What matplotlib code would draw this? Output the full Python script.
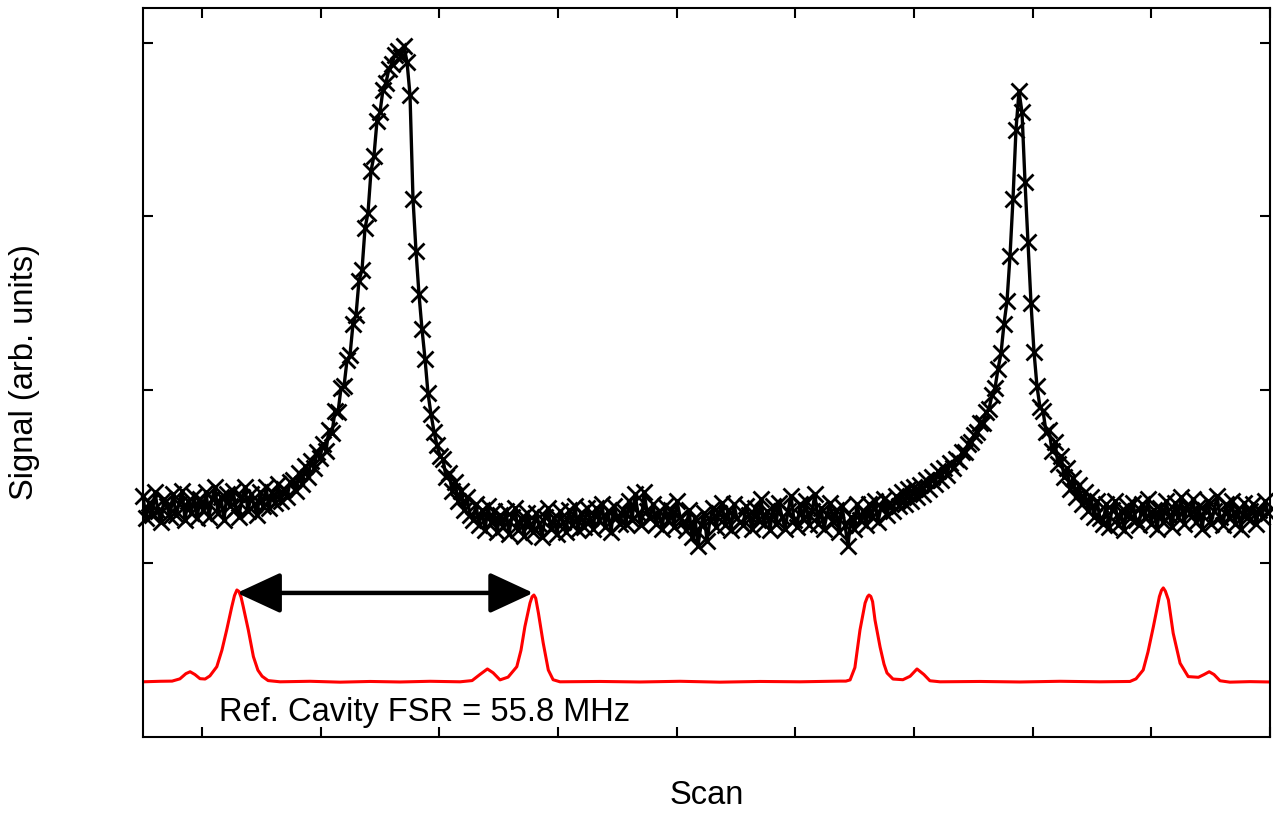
import numpy as np
import matplotlib
matplotlib.use('Agg')
from matplotlib import pyplot as plt

plt.rcParams['font.family'] = ['Liberation Sans', 'DejaVu Sans']

# scan signal (black), one value per scan sample
signal = [
    1.39, 1.26, 1.35, 1.28, 1.41, 1.30, 1.24, 1.37, 1.33, 1.27,
    1.40, 1.28, 1.34, 1.42, 1.25, 1.36, 1.29, 1.39, 1.26, 1.37,
    1.31, 1.41, 1.27, 1.37, 1.44, 1.29, 1.38, 1.25, 1.40, 1.33,
    1.42, 1.32, 1.27, 1.38, 1.44, 1.30, 1.40, 1.34, 1.28, 1.41,
    1.33, 1.44, 1.32, 1.41, 1.35, 1.46, 1.36, 1.43, 1.38, 1.47,
    1.48, 1.42, 1.52, 1.46, 1.56, 1.50, 1.59, 1.55, 1.64, 1.61,
    1.69, 1.65, 1.77, 1.75, 1.88, 1.87, 2.01, 2.02, 2.17, 2.20,
    2.38, 2.43, 2.63, 2.69, 2.93, 3.02, 3.26, 3.35, 3.55, 3.60,
    3.73, 3.77, 3.85, 3.88, 3.93, 3.95, 3.92, 3.98, 3.89, 3.70,
    3.10, 2.80, 2.55, 2.35, 2.18, 1.98, 1.86, 1.76, 1.68, 1.62,
    1.60, 1.50, 1.52, 1.42, 1.47, 1.36, 1.42, 1.31, 1.38, 1.28,
    1.25, 1.34, 1.22, 1.31, 1.19, 1.33, 1.24, 1.30, 1.18, 1.28,
    1.21, 1.30, 1.17, 1.27, 1.32, 1.19, 1.26, 1.16, 1.29, 1.23,
    1.18, 1.29, 1.23, 1.15, 1.27, 1.32, 1.20, 1.26, 1.17, 1.30,
    1.24, 1.18, 1.31, 1.22, 1.33, 1.19, 1.29, 1.21, 1.32, 1.26,
    1.20, 1.32, 1.25, 1.34, 1.21, 1.30, 1.18, 1.33, 1.27, 1.23,
    1.31, 1.23, 1.36, 1.25, 1.40, 1.29, 1.22, 1.41, 1.30, 1.26,
    1.34, 1.23, 1.30, 1.20, 1.33, 1.25, 1.31, 1.21, 1.36, 1.27,
    1.24, 1.19, 1.31, 1.15, 1.26, 1.10, 1.22, 1.29, 1.13, 1.25,
    1.32, 1.21, 1.29, 1.35, 1.22, 1.30, 1.19, 1.34, 1.26, 1.24,
    1.22, 1.33, 1.28, 1.20, 1.32, 1.25, 1.37, 1.23, 1.30, 1.19,
    1.33, 1.23, 1.35, 1.27, 1.20, 1.30, 1.39, 1.25, 1.21, 1.34,
    1.26, 1.36, 1.22, 1.30, 1.40, 1.23, 1.32, 1.20, 1.28, 1.35,
    1.24, 1.31, 1.18, 1.33, 1.22, 1.10, 1.27, 1.20, 1.34, 1.25,
    1.30, 1.22, 1.34, 1.27, 1.36, 1.24, 1.32, 1.37, 1.28, 1.35,
    1.30, 1.39, 1.33, 1.41, 1.34, 1.43, 1.36, 1.44, 1.38, 1.45,
    1.40, 1.48, 1.43, 1.50, 1.46, 1.53, 1.48, 1.55, 1.51, 1.58,
    1.55, 1.60, 1.59, 1.64, 1.64, 1.69, 1.70, 1.74, 1.76, 1.81,
    1.81, 1.87, 1.89, 1.97, 2.01, 2.12, 2.21, 2.38, 2.51, 2.77,
    3.10, 3.50, 3.72, 3.60, 3.20, 2.85, 2.50, 2.22, 2.02, 1.90,
    1.88, 1.76, 1.77, 1.65, 1.70, 1.57, 1.62, 1.50, 1.55, 1.43,
    1.49, 1.38, 1.45, 1.34, 1.41, 1.30, 1.38, 1.27, 1.36, 1.26,
    1.23, 1.34, 1.21, 1.31, 1.36, 1.22, 1.30, 1.19, 1.33, 1.26,
    1.35, 1.25, 1.22, 1.34, 1.27, 1.37, 1.23, 1.31, 1.20, 1.32,
    1.24, 1.36, 1.28, 1.21, 1.35, 1.27, 1.38, 1.23, 1.33, 1.29,
    1.37, 1.24, 1.33, 1.20, 1.31, 1.36, 1.23, 1.30, 1.39, 1.27,
    1.22, 1.34, 1.27, 1.36, 1.23, 1.31, 1.20, 1.35, 1.26, 1.30,
    1.34, 1.23, 1.31, 1.27, 1.36, 1.29,
]

# reference cavity transmission (red)
ref_x = [0, 5.7, 9.7, 12.3, 14.3, 15.7, 17.3, 19.0, 20.7, 22.3, 24.6, 26.3,
         27.9, 29.6, 30.5, 31.3, 32.0, 32.7, 33.4, 35.1, 36.8, 38.3, 39.7,
         41.7, 45.7, 55.7, 65.7, 75.7, 85.7, 95.7, 105.7, 109.7, 112.3,
         114.8, 116.7, 119.0, 121.7, 124.6, 126.0, 127.3, 129.0, 129.7,
         130.3, 130.9, 131.8, 133.4, 135.1, 136.7, 139.0, 152.3, 165.7,
         179.0, 192.3, 205.7, 219.0, 232.3, 234.3, 235.7, 237.3, 239.0,
         240.7, 241.5, 242.0, 242.6, 243.2, 244.0, 245.7, 247.0, 248.0,
         250.0, 253.3, 255.7, 258.0, 260.3, 262.3, 265.7, 279.0, 292.3,
         305.7, 319.0, 329.0, 331.0, 333.4, 335.0, 336.8, 338.8, 339.5,
         340.1, 340.8, 341.8, 343.4, 345.7, 348.4, 351.8, 353.7, 355.4,
         357.0, 359.0, 362.3, 369.0, 375.7]
ref_y = [0.318, 0.321, 0.322, 0.335, 0.365, 0.376, 0.360, 0.336, 0.334, 0.352,
         0.405, 0.500, 0.617, 0.751, 0.815, 0.847, 0.838, 0.805, 0.752, 0.617,
         0.463, 0.385, 0.350, 0.325, 0.318, 0.321, 0.316, 0.320, 0.317, 0.321,
         0.318, 0.325, 0.360, 0.392, 0.370, 0.329, 0.345, 0.405, 0.500, 0.636,
         0.772, 0.808, 0.818, 0.800, 0.715, 0.542, 0.386, 0.330, 0.318, 0.320,
         0.317, 0.321, 0.316, 0.320, 0.318, 0.322, 0.322, 0.329, 0.400, 0.617,
         0.772, 0.808, 0.818, 0.810, 0.780, 0.674, 0.518, 0.420, 0.369, 0.334,
         0.330, 0.350, 0.392, 0.360, 0.324, 0.318, 0.320, 0.317, 0.321, 0.318,
         0.320, 0.335, 0.386, 0.490, 0.636, 0.809, 0.845, 0.859, 0.840, 0.790,
         0.598, 0.425, 0.348, 0.344, 0.360, 0.376, 0.360, 0.324, 0.316, 0.319,
         0.317]

# FSR arrow between the first two reference peaks
fsr_start = 31.3
fsr_end = 130.1
fsr_level = 0.83
fsr_label = 'Ref. Cavity FSR = 55.8 MHz'

scan = np.arange(len(signal))

fig = plt.figure(figsize=(12.73, 8.14), dpi=100)
ax = fig.add_axes((143/1273, 77/814, 1127/1273, 729/814))

ax.plot(scan, signal, color='black', lw=2.4, marker='x', ms=11.5, mew=2.0,
        clip_on=False, zorder=3)
ax.plot(ref_x, ref_y, color='red', lw=2.2, zorder=2)

ax.annotate('', xy=(fsr_end, fsr_level), xytext=(fsr_start, fsr_level),
            arrowprops=dict(arrowstyle='<|-|>,head_length=2.7,head_width=1.25',
                            mutation_scale=10, lw=3.2, color='black',
                            shrinkA=0, shrinkB=0))
ax.text(25.5, 0.14, fsr_label, fontsize=23.5, va='center', ha='left')

ax.set_xlim(0, 375.67)
ax.set_ylim(0, 4.2)
ax.set_xticks(np.arange(19.7, 376, 39.55))
ax.set_yticks([1, 2, 3, 4])
ax.tick_params(direction='in', length=7, width=1.5, top=True, right=True,
               labelbottom=False, labelleft=False)
for s in ax.spines.values():
    s.set_linewidth(1.5)

ax.set_xlabel('Scan', fontsize=23.5, labelpad=31)
ax.set_ylabel('Signal (arb. units)', fontsize=23.5, labelpad=74)

plt.savefig('out.png', dpi=100)
